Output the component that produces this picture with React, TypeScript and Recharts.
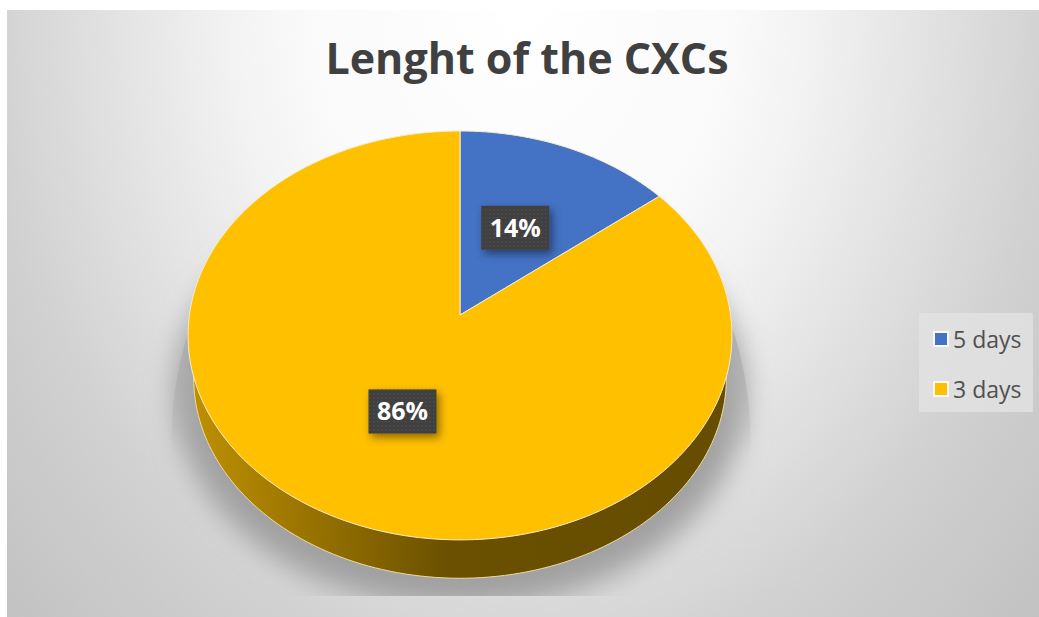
import React from "react";
import { PieChart, Pie, Cell, Legend } from "recharts";

const TITLE = "Lenght of the CXCs";
const categories = ["5 days", "3 days"];
const shares = [14.3, 85.7];
const colors = ["#4472C4", "#FFC000"];
const FONT = "'Open Sans', 'Noto Sans', sans-serif";
const data = categories.map((name, i) => ({ name, value: shares[i] }));

const SQUASH = 0.748;
const PERSPECTIVE = 0.1;

function project(cx: number, cy: number, r: number, deg: number, f: number, squash = SQUASH) {
  const t = ((90 - deg) * Math.PI) / 180;
  const u = Math.sin(t) * f;
  const v = -Math.cos(t) * f;
  const w = 1 - PERSPECTIVE * v;
  return [cx + (r * u) / w, cy + (r * squash * v) / w];
}

function wedgePath(p: any, squash = SQUASH) {
  const { cx, cy, outerRadius, startAngle, endAngle } = p;
  const steps = Math.max(4, Math.ceil(Math.abs(endAngle - startAngle) / 1.5));
  const pts: string[] = [];
  for (let i = 0; i <= steps; i++) {
    const a = startAngle + ((endAngle - startAngle) * i) / steps;
    const [x, y] = project(cx, cy, outerRadius, a, 1, squash);
    pts.push(`${x.toFixed(2)} ${y.toFixed(2)}`);
  }
  return `M${cx} ${cy}L${pts.join("L")}Z`;
}

const TopWedge = (p: any) => (
  <path d={wedgePath(p)} fill={p.fill} stroke="#f7ecd0" strokeWidth={1} strokeLinejoin="round" />
);
const RimWedge = (p: any) => (
  <path d={wedgePath(p)} fill="url(#rim)" stroke="#eeD9A0" strokeWidth={1} />
);
const ShadowWedge = (p: any) => (
  <g clipPath="url(#shadowClip)">
    <path d={wedgePath(p)} fill="#a0a0a0" filter="url(#blur)" />
  </g>
);
const SideWedge = (p: any) => <path d={wedgePath(p, 1.1)} fill="url(#sideFade)" />;

const renderLabel = (p: any) => {
  const [x, y] = project(p.cx, p.cy, p.outerRadius, p.midAngle, 0.5);
  const boxW = 68;
  const boxH = 44;
  const tx = p.index === 0 ? x - 1 : x + 4;
  const ty = p.index === 0 ? y : y + 1;
  return (
    <g>
      <rect x={tx - boxW / 2} y={ty - boxH / 2} width={boxW} height={boxH} fill="#404040" filter="url(#labelShadow)" />
      <rect x={tx - boxW / 2} y={ty - boxH / 2} width={boxW} height={boxH} fill="url(#dots)" />
      <text x={tx} y={ty + 9} textAnchor="middle" fontFamily={FONT} fontWeight={700} fontSize={25} fill="#ffffff">
        {`${Math.round(p.percent * 100)}%`}
      </text>
    </g>
  );
};

const LegendBox = () => (
  <div style={{ width: 114, height: 99, background: "rgba(226,226,226,0.8)", position: "relative", fontFamily: FONT }}>
    {categories.map((name, i) => (
      <div key={name} style={{ position: "absolute", left: 0, top: 10 + i * 50, height: 32, display: "flex", alignItems: "center" }}>
        <span style={{ display: "block", marginLeft: 16, width: 12, height: 12, background: colors[i], boxShadow: "0 0 0 2px rgba(255,255,255,0.8)" }} />
        <span style={{ marginLeft: 6, fontSize: 23, color: "#505050", whiteSpace: "nowrap" }}>{name}</span>
      </div>
    ))}
  </div>
);

export default function App() {
  return (
    <div style={{ position: "absolute", left: 0, top: 0, width: 1039, height: 617, overflow: "hidden", background: "#fff" }}>
      <div
        style={{
          position: "absolute", left: 7, top: 10, width: 1032, height: 607,
          background: "radial-gradient(ellipse 730px 918px at 513px 0px, #ffffff 0%, #fafafa 29%, #f2f2f2 40%, #e2e2e2 56%, #d0d0d0 74%, #c0c0c0 100%)",
        }}
      />
      <div style={{ position: "absolute", left: 0, top: 0 }}>
        <PieChart width={1039} height={617} margin={{ top: 0, right: 0, bottom: 0, left: 0 }}>
          <defs>
            <linearGradient id="rim" gradientUnits="userSpaceOnUse" x1="196" y1="0" x2="724" y2="0">
              <stop offset="0" stopColor="#bd8f00" />
              <stop offset="0.3" stopColor="#8a6800" />
              <stop offset="0.48" stopColor="#6a5000" />
              <stop offset="1" stopColor="#664d00" />
            </linearGradient>
            <linearGradient id="sideFade" gradientUnits="userSpaceOnUse" x1="0" y1="270" x2="0" y2="455">
              <stop offset="0" stopColor="#a8a8a8" stopOpacity="0" />
              <stop offset="0.35" stopColor="#a8a8a8" stopOpacity="0.7" />
              <stop offset="0.6" stopColor="#a8a8a8" stopOpacity="0.55" />
              <stop offset="1" stopColor="#a8a8a8" stopOpacity="0" />
            </linearGradient>
            <filter id="blur" x="-20%" y="-20%" width="140%" height="140%">
              <feGaussianBlur stdDeviation="14" />
            </filter>
            <clipPath id="shadowClip">
              <rect x="0" y="200" width="1039" height="396" />
            </clipPath>
            <filter id="labelShadow" x="-30%" y="-30%" width="160%" height="170%">
              <feDropShadow dx="3" dy="4" stdDeviation="4" floodColor="#000" floodOpacity="0.45" />
            </filter>
            <pattern id="dots" width="4" height="4" patternUnits="userSpaceOnUse">
              <rect x="1" y="1" width="1.4" height="1.4" fill="#4e4e4e" />
            </pattern>
          </defs>
          <text x={527} y={74} textAnchor="middle" fontFamily={FONT} fontWeight={700} fontSize={43} fill="#404040">
            {TITLE}
          </text>
          <Pie data={data} dataKey="value" nameKey="name" cx={460} cy={372} outerRadius={284} startAngle={90} endAngle={-270} legendType="none" isAnimationActive={false} shape={ShadowWedge} label={false} />
          <Pie data={data} dataKey="value" nameKey="name" cx={461} cy={408} outerRadius={288} startAngle={90} endAngle={-270} legendType="none" isAnimationActive={false} shape={SideWedge} label={false} />
          <Pie data={data} dataKey="value" nameKey="name" cx={460} cy={358} outerRadius={265} startAngle={90} endAngle={-270} legendType="none" isAnimationActive={false} shape={RimWedge} label={false} stroke="none" />
          <Pie data={data} dataKey="value" nameKey="name" cx={460} cy={315} outerRadius={270.6} startAngle={90} endAngle={-270} isAnimationActive={false} shape={TopWedge} label={renderLabel} labelLine={false}>
            {data.map((d, i) => (
              <Cell key={d.name} fill={colors[i]} />
            ))}
          </Pie>
          <Legend content={<LegendBox />} layout="vertical" verticalAlign="top" align="right" wrapperStyle={{ position: "absolute", left: 919, top: 313, width: 114 }} />
        </PieChart>
      </div>
    </div>
  );
}
